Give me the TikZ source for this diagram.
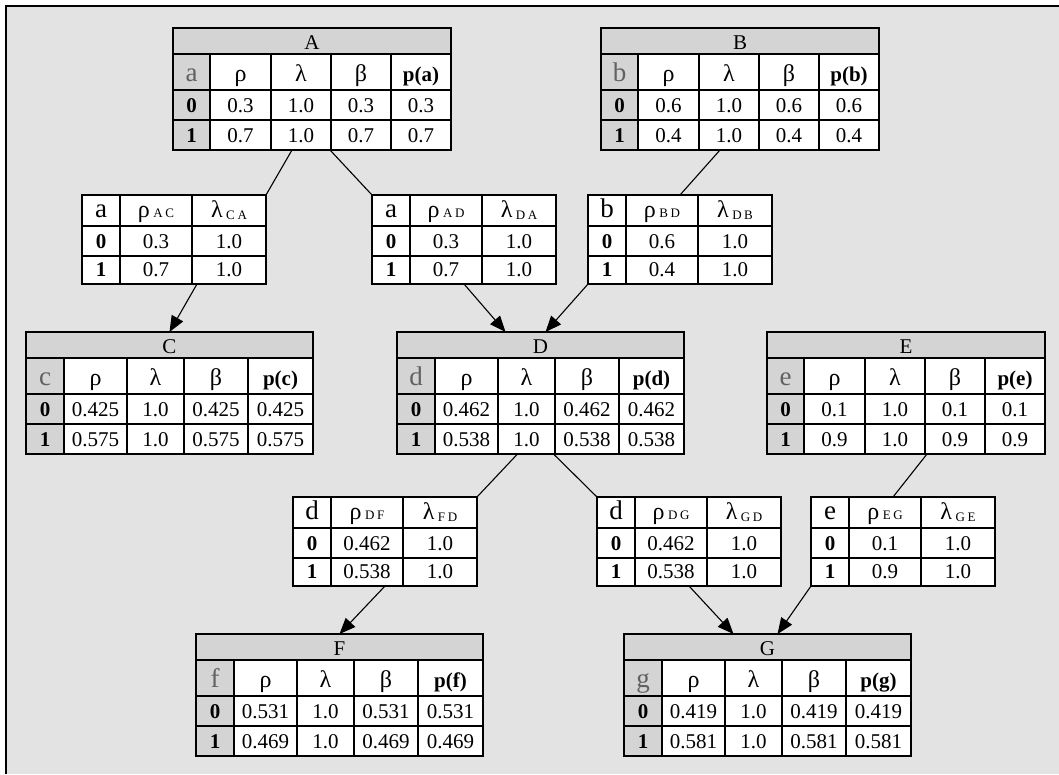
\documentclass[tikz,border=0pt]{standalone}
\usepackage{fontspec}
\setmainfont{Liberation Serif}
\usetikzlibrary{arrows.meta}
\definecolor{bggray}{gray}{0.89}
\definecolor{hdgray}{gray}{0.83}
\definecolor{vargray}{gray}{0.38}
\tikzset{
  cell/.style={draw=black,line width=1.4pt},
  tabframe/.style={draw=black,line width=1.6pt,inner sep=0pt,outer sep=0pt,anchor=north west},
  txt/.style={anchor=base,inner sep=0pt},
  link/.style={draw=black,line width=1.1pt},
  msgarrow/.style={link,-{Triangle[length=16pt,width=13pt]}}
}
% column edges of the tables
\def\narrow{{0,37,98,158,218,278}}
\def\wide{{0,38,101,158,222,287}}
\def\msgcols{{0,38,110,184}}
\newcommand{\gr}[1]{{\fontsize{24}{24}\selectfont#1}}
\newcommand{\subl}[1]{{\fontsize{13}{13}\selectfont\addfontfeature{LetterSpace=20}#1}}
\newcommand{\bigvar}[1]{{\fontsize{27}{27}\selectfont#1}}
% node table: name, left, top, title, var, rho 0, rho 1, column edges
\newcommand{\cpttab}[8]{%
  \begin{scope}[shift={(#2,#3)}]
    \pgfmathsetmacro\tw{#8[5]}
    \fill[hdgray] (0,0) rectangle (\tw,26);
    \node[txt] (#1-t) at (\tw/2,21) {#4};
    \foreach \i/\hd/\ra/\rb in {1/#5/0/1,2/\gr{ρ}/#6/#7,3/\gr{λ}/1.0/1.0,4/\gr{β}/#6/#7,5/p(#5)/#6/#7}{
      \pgfmathsetmacro\xa{#8[\i-1]}
      \pgfmathsetmacro\xb{#8[\i]}
      \ifnum\i=1
        \draw[cell,fill=hdgray] (\xa,26) rectangle (\xb,62) (\xa,62) rectangle (\xb,92) (\xa,92) rectangle (\xb,122);
        \node[txt,text=vargray] (#1-h\i) at ({(\xa+\xb)/2},53) {\bigvar{\hd}};
        \node[txt] (#1-a\i) at ({(\xa+\xb)/2},84) {\bfseries\ra};
        \node[txt] (#1-b\i) at ({(\xa+\xb)/2},114) {\bfseries\rb};
      \else
        \draw[cell,fill=white] (\xa,26) rectangle (\xb,62) (\xa,62) rectangle (\xb,92) (\xa,92) rectangle (\xb,122);
        \node[txt] (#1-h\i) at ({(\xa+\xb)/2},53) {\ifnum\i=5 \bfseries\fi\hd};
        \node[txt] (#1-a\i) at ({(\xa+\xb)/2},84) {\ra};
        \node[txt] (#1-b\i) at ({(\xa+\xb)/2},114) {\rb};
      \fi
    }
    \node[tabframe,minimum width=\tw,minimum height=122] (#1) at (0,0) {};
  \end{scope}
}
% message table: name, left, top, var, rho sub, lambda sub, rho 0, rho 1
\newcommand{\msgtab}[8]{%
  \begin{scope}[shift={(#2,#3)}]
    \foreach \i/\hd/\ra/\rb in {1/{\bigvar{#4}}/0/1,2/{\gr{ρ}\,\subl{#5}}/#7/#8,3/{\gr{λ}\,\raisebox{-2pt}{\subl{#6}}}/1.0/1.0}{
      \pgfmathsetmacro\xa{\msgcols[\i-1]}
      \pgfmathsetmacro\xb{\msgcols[\i]}
      \draw[cell,fill=white] (\xa,0) rectangle (\xb,31) (\xa,31) rectangle (\xb,61) (\xa,61) rectangle (\xb,89);
      \node[txt] (#1-h\i) at ({(\xa+\xb)/2},22) {\hd};
      \node[txt] (#1-a\i) at ({(\xa+\xb)/2},53) {\ifnum\i=1 \bfseries\fi\ra};
      \node[txt] (#1-b\i) at ({(\xa+\xb)/2},81) {\ifnum\i=1 \bfseries\fi\rb};
    }
    \node[tabframe,minimum width=184,minimum height=89] (#1) at (0,0) {};
  \end{scope}
}

\begin{document}
\begin{tikzpicture}[x=1pt,y=-1pt,font=\fontsize{21}{24}\selectfont]
  \useasboundingbox (0,0) rectangle (1059,774);
  \fill[bggray] (6,6) rectangle (1059,774);
  \draw[line width=2pt] (6,774) -- (6,6) -- (1059,6);

  % variables
  \cpttab{A}{173}{28}{A}{a}{0.3}{0.7}{\narrow}
  \cpttab{B}{601}{28}{B}{b}{0.6}{0.4}{\narrow}
  \cpttab{C}{26}{332}{C}{c}{0.425}{0.575}{\wide}
  \cpttab{D}{397}{332}{D}{d}{0.462}{0.538}{\wide}
  \cpttab{E}{767}{332}{E}{e}{0.1}{0.9}{\narrow}
  \cpttab{F}{196}{634}{F}{f}{0.531}{0.469}{\wide}
  \cpttab{G}{624}{634}{G}{g}{0.419}{0.581}{\wide}

  % messages
  \msgtab{AC}{82}{195}{a}{AC}{CA}{0.3}{0.7}
  \msgtab{AD}{372}{195}{a}{AD}{DA}{0.3}{0.7}
  \msgtab{BD}{588}{195}{b}{BD}{DB}{0.6}{0.4}
  \msgtab{DF}{293}{497}{d}{DF}{FD}{0.462}{0.538}
  \msgtab{DG}{597}{497}{d}{DG}{GD}{0.462}{0.538}
  \msgtab{EG}{811}{497}{e}{EG}{GE}{0.1}{0.9}

  % links
  \draw[link] ([xshift=-20pt]A.south) -- (AC.north east);
  \draw[link] ([xshift=18pt]A.south) -- (AD.north west);
  \draw[link] ([xshift=-20pt]B.south) -- (BD.north);
  \draw[msgarrow] ([xshift=23pt]AC.south) -- (C.north);
  \draw[msgarrow] (AD.south) -- ([xshift=-35pt]D.north);
  \draw[msgarrow] (BD.south west) -- ([xshift=5pt]D.north);
  \draw[link] ([xshift=-23pt]D.south) -- (DF.north east);
  \draw[link] ([xshift=13pt]D.south) -- (DG.north west);
  \draw[link] ([xshift=21pt]E.south) -- ([xshift=-10pt]EG.north);
  \draw[msgarrow] (DF.south) -- (F.north);
  \draw[msgarrow] (DG.south) -- ([xshift=-34pt]G.north);
  \draw[msgarrow] (EG.south west) -- ([xshift=10pt]G.north);
\end{tikzpicture}
\end{document}
